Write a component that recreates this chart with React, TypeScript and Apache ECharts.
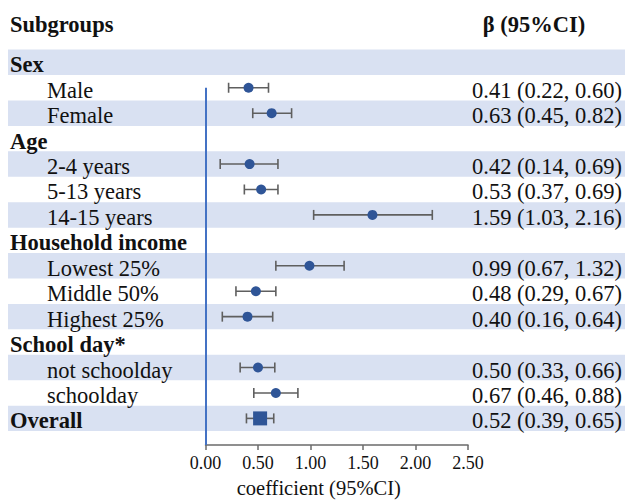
import React, { useEffect, useRef } from "react";
import * as echarts from "echarts";

const labels = [
  "Sex", "Male", "Female",
  "Age", "2-4 years", "5-13 years", "14-15 years",
  "Household income", "Lowest 25%", "Middle 50%", "Highest 25%",
  "School day*", "not schoolday", "schoolday",
  "Overall",
];
const isHeader = [true, false, false, true, false, false, false, true, false, false, false, true, false, false, true];
const beta = [null, 0.41, 0.63, null, 0.42, 0.53, 1.59, null, 0.99, 0.48, 0.40, null, 0.50, 0.67, 0.52];
const lower = [null, 0.22, 0.45, null, 0.14, 0.37, 1.03, null, 0.67, 0.29, 0.16, null, 0.33, 0.46, 0.39];
const upper = [null, 0.60, 0.82, null, 0.69, 0.69, 2.16, null, 1.32, 0.67, 0.64, null, 0.66, 0.88, 0.65];
const overallIndex = 14;
const xTicks = [0, 0.5, 1, 1.5, 2, 2.5];

const FONT = "Liberation Serif";
const ROW_FONT = 22.5;
const TEXT_SHIFT = 2.5;

export default function App() {
  const ref = useRef<HTMLDivElement>(null);
  useEffect(() => {
    document.body.style.margin = "0";
    const chart = echarts.init(ref.current!, null, { renderer: "svg" });

    const bandData = labels.map((_, i) => i).filter((i) => i % 2 === 0).map((i) => [0, i]);
    const labelData = labels.map((l, i) => [0, i, l, isHeader[i] ? 1 : 0]);
    const valueData = labels
      .map((_, i) => i)
      .filter((i) => beta[i] !== null)
      .map((i) => [0, i, `${beta[i]!.toFixed(2)} (${lower[i]!.toFixed(2)}, ${upper[i]!.toFixed(2)})`]);
    const ciData = labels
      .map((_, i) => i)
      .filter((i) => beta[i] !== null)
      .map((i) => [lower[i], upper[i], i]);
    const dotData = labels
      .map((_, i) => i)
      .filter((i) => beta[i] !== null && i !== overallIndex)
      .map((i) => [beta[i], i]);
    const overallData = [[beta[overallIndex], overallIndex]];

    const option: any = {
      animation: false,
      textStyle: { fontFamily: FONT },
      grid: { left: 205.5, right: 157, top: 49.6, bottom: 53, containLabel: false },
      xAxis: {
        type: "value",
        min: 0,
        max: 2.5,
        interval: 0.5,
        axisLine: { show: true, onZero: false, lineStyle: { color: "#6b6b6b", width: 1.5 } },
        axisTick: { show: true, length: 5, lineStyle: { color: "#6b6b6b", width: 1.5 } },
        splitLine: { show: false },
        axisLabel: {
          formatter: (v: number) => v.toFixed(2),
          fontFamily: FONT,
          fontSize: 18,
          color: "#111",
          margin: 9,
          customValues: xTicks,
        },
        name: "coefficient (95%CI)",
        nameLocation: "middle",
        nameGap: 29,
        nameTextStyle: { fontFamily: FONT, fontSize: 20.5, color: "#111", padding: [0, 36, 0, 0] },
      },
      yAxis: {
        type: "value",
        inverse: true,
        min: -0.5,
        max: 15.05,
        show: false,
      },
      graphic: [
        {
          type: "text",
          x: 10,
          y: 24,
          style: {
            text: "Subgroups",
            fontFamily: FONT,
            fontSize: ROW_FONT,
            fontWeight: "bold",
            fill: "#111",
            verticalAlign: "middle",
          },
        },
        {
          type: "text",
          x: 534,
          y: 24,
          style: {
            text: "β (95%CI)",
            fontFamily: FONT,
            fontSize: ROW_FONT,
            fontWeight: "bold",
            fill: "#111",
            align: "center",
            verticalAlign: "middle",
          },
        },
      ],
      series: [
        {
          type: "custom",
          clip: false,
          silent: true,
          z: 0,
          data: bandData,
          renderItem: (params: any, api: any) => {
            const idx = api.value(1);
            const y0 = api.coord([0, idx - 0.5])[1];
            const y1 = api.coord([0, idx + 0.5])[1];
            return {
              type: "rect",
              shape: { x: 8, y: y0, width: api.getWidth() - 8, height: y1 - y0 },
              style: { fill: "#D9E1F2" },
            };
          },
        },
        {
          type: "custom",
          clip: false,
          silent: true,
          z: 3,
          data: labelData,
          renderItem: (params: any, api: any) => {
            const idx = api.value(1);
            const hdr = labelData[params.dataIndex][3] === 1;
            const y = api.coord([0, idx])[1] + TEXT_SHIFT;
            return {
              type: "text",
              x: hdr ? 10 : 47,
              y: y,
              style: {
                text: labelData[params.dataIndex][2] as string,
                fontFamily: FONT,
                fontSize: ROW_FONT,
                fontWeight: hdr ? "bold" : "normal",
                fill: "#111",
                align: "left",
                verticalAlign: "middle",
              },
            };
          },
        },
        {
          type: "custom",
          clip: false,
          silent: true,
          z: 3,
          data: valueData,
          renderItem: (params: any, api: any) => {
            const idx = api.value(1);
            const y = api.coord([0, idx])[1] + TEXT_SHIFT;
            return {
              type: "text",
              x: api.getWidth() - 3,
              y: y,
              style: {
                text: valueData[params.dataIndex][2] as string,
                fontFamily: FONT,
                fontSize: ROW_FONT,
                fill: "#111",
                align: "right",
                verticalAlign: "middle",
              },
            };
          },
        },
        {
          type: "custom",
          clip: false,
          silent: true,
          z: 4,
          data: ciData,
          renderItem: (params: any, api: any) => {
            const lo = api.coord([api.value(0), api.value(2)]);
            const hi = api.coord([api.value(1), api.value(2)]);
            const style = { stroke: "#5f5f5f", lineWidth: 1.6 };
            const cap = 5;
            return {
              type: "group",
              children: [
                { type: "line", shape: { x1: lo[0], y1: lo[1], x2: hi[0], y2: hi[1] }, style },
                { type: "line", shape: { x1: lo[0], y1: lo[1] - cap, x2: lo[0], y2: lo[1] + cap }, style },
                { type: "line", shape: { x1: hi[0], y1: hi[1] - cap, x2: hi[0], y2: hi[1] + cap }, style },
              ],
            };
          },
          markLine: {
            silent: true,
            symbol: "none",
            label: { show: false },
            lineStyle: { color: "#4472C4", width: 2, type: "solid" },
            data: [[{ coord: [0, 1.0] }, { coord: [0, 15.05] }]],
          },
        },
        {
          type: "scatter",
          z: 5,
          symbol: "circle",
          symbolSize: 10,
          itemStyle: { color: "#2F5597", opacity: 1 },
          data: dotData,
        },
        {
          type: "scatter",
          z: 5,
          symbol: "rect",
          symbolSize: [14, 14],
          itemStyle: { color: "#2F5597", opacity: 1 },
          data: overallData,
        },
      ],
    };
    chart.setOption(option);
    return () => chart.dispose();
  }, []);
  return <div ref={ref} style={{ width: 625, height: 503 }} />;
}
